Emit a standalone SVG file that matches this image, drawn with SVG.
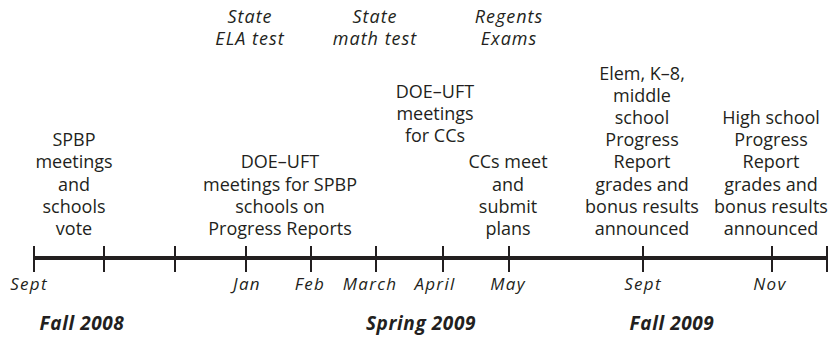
<svg xmlns="http://www.w3.org/2000/svg" width="834" height="340" viewBox="0 0 834 340">
<style>
  text { font-family: "Open Sans", "Noto Sans", "DejaVu Sans", sans-serif; fill: #231f20; text-anchor: middle; }
  .ev { font-size: 18px; }
  .test { font-size: 18px; font-style: italic; letter-spacing: 1px; }
  .mon { font-size: 17px; font-style: italic; letter-spacing: 1.3px; }
  .season { font-size: 19px; font-style: italic; font-weight: bold; letter-spacing: 0.6px; }
  .axis { stroke: #231f20; stroke-width: 4; }
  .tick { stroke: #231f20; stroke-width: 2; }
</style>
<rect width="834" height="340" fill="#ffffff"/>

<g id="timeline">
  <line class="axis" x1="34" y1="258" x2="827" y2="258"/>
  <line class="tick" x1="34" y1="246" x2="34" y2="272"/>
  <line class="tick" x1="104" y1="246" x2="104" y2="272"/>
  <line class="tick" x1="175" y1="246" x2="175" y2="272"/>
  <line class="tick" x1="246" y1="246" x2="246" y2="272"/>
  <line class="tick" x1="311" y1="246" x2="311" y2="272"/>
  <line class="tick" x1="376" y1="246" x2="376" y2="272"/>
  <line class="tick" x1="443" y1="246" x2="443" y2="272"/>
  <line class="tick" x1="509" y1="246" x2="509" y2="272"/>
  <line class="tick" x1="643" y1="246" x2="643" y2="272"/>
  <line class="tick" x1="772" y1="246" x2="772" y2="272"/>
  <line class="tick" x1="827" y1="246" x2="827" y2="272"/>
</g>

<g id="months">
  <text class="mon" x="29" y="290">Sept</text>
  <text class="mon" x="247" y="290">Jan</text>
  <text class="mon" x="310" y="290">Feb</text>
  <text class="mon" x="370" y="290">March</text>
  <text class="mon" x="435" y="290">April</text>
  <text class="mon" x="508" y="290">May</text>
  <text class="mon" x="643" y="290">Sept</text>
  <text class="mon" x="770" y="290">Nov</text>
</g>

<g id="seasons">
  <text class="season" x="82" y="330">Fall 2008</text>
  <text class="season" x="421" y="330">Spring 2009</text>
  <text class="season" x="672" y="330">Fall 2009</text>
</g>

<g id="state-ela">
  <text class="test" x="250" y="23">State</text>
  <text class="test" x="250" y="45">ELA test</text>
</g>
<g id="state-math">
  <text class="test" x="375" y="23">State</text>
  <text class="test" x="375" y="45">math test</text>
</g>
<g id="regents">
  <text class="test" x="509" y="23">Regents</text>
  <text class="test" x="509" y="45">Exams</text>
</g>

<g id="spbp-vote">
  <text class="ev" x="74" y="146">SPBP</text>
  <text class="ev" x="74" y="168">meetings</text>
  <text class="ev" x="74" y="191">and</text>
  <text class="ev" x="74" y="213">schools</text>
  <text class="ev" x="74" y="235">vote</text>
</g>
<g id="doe-uft-spbp">
  <text class="ev" x="280" y="168">DOE–UFT</text>
  <text class="ev" x="280" y="191">meetings for SPBP</text>
  <text class="ev" x="280" y="213">schools on</text>
  <text class="ev" x="280" y="235">Progress Reports</text>
</g>
<g id="doe-uft-ccs">
  <text class="ev" x="435" y="98">DOE–UFT</text>
  <text class="ev" x="435" y="120">meetings</text>
  <text class="ev" x="435" y="142">for CCs</text>
</g>
<g id="ccs-plans">
  <text class="ev" x="508" y="168">CCs meet</text>
  <text class="ev" x="508" y="191">and</text>
  <text class="ev" x="508" y="213">submit</text>
  <text class="ev" x="508" y="235">plans</text>
</g>
<g id="elem-results">
  <text class="ev" x="642" y="80">Elem, K–8,</text>
  <text class="ev" x="642" y="102">middle</text>
  <text class="ev" x="642" y="124">school</text>
  <text class="ev" x="642" y="146">Progress</text>
  <text class="ev" x="642" y="168">Report</text>
  <text class="ev" x="642" y="191">grades and</text>
  <text class="ev" x="642" y="213">bonus results</text>
  <text class="ev" x="642" y="235">announced</text>
</g>
<g id="hs-results">
  <text class="ev" x="771" y="124">High school</text>
  <text class="ev" x="771" y="146">Progress</text>
  <text class="ev" x="771" y="168">Report</text>
  <text class="ev" x="771" y="191">grades and</text>
  <text class="ev" x="771" y="213">bonus results</text>
  <text class="ev" x="771" y="235">announced</text>
</g>
</svg>
